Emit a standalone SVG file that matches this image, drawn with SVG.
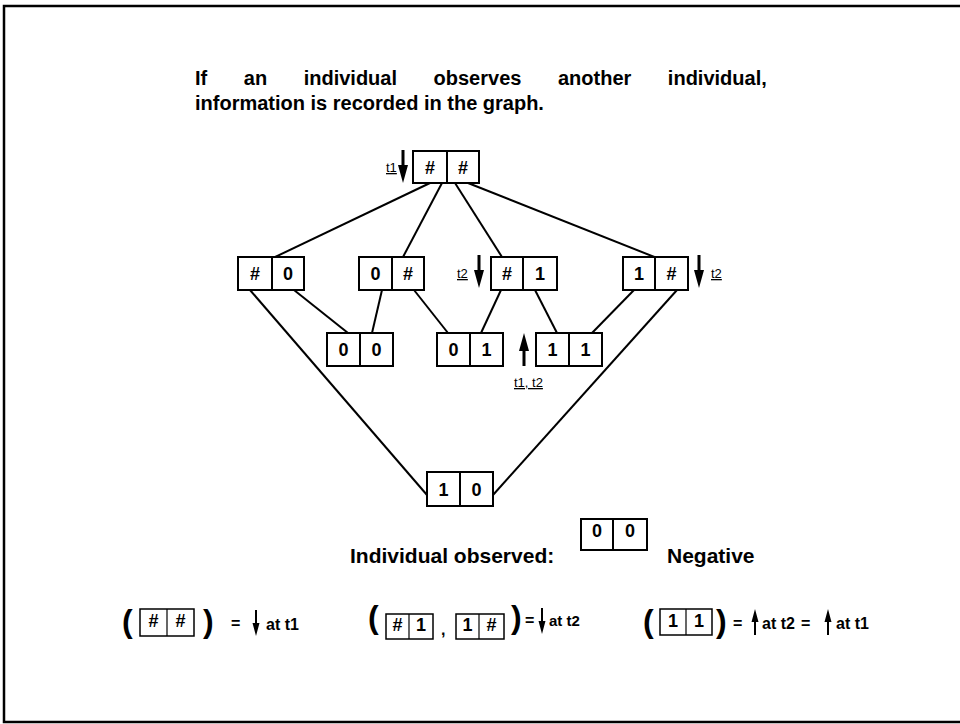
<svg xmlns="http://www.w3.org/2000/svg" xmlns:xlink="http://www.w3.org/1999/xlink" width="960" height="724" viewBox="0 0 960 724">
<style>
.box{fill:#fff;stroke:#000;stroke-width:2}
.fbox{fill:#fff;stroke:#000;stroke-width:1.5}
.div{stroke:#000;stroke-width:2}
.fdiv{stroke:#000;stroke-width:1.2}
.cell{font-family:"Liberation Sans",Arial,Helvetica,sans-serif;font-weight:bold;font-size:18px;text-anchor:middle;fill:#000}
.title{font-family:"Liberation Sans",Arial,Helvetica,sans-serif;font-weight:bold;font-size:20px;fill:#000}
.lbl{font-family:"Liberation Sans",Arial,Helvetica,sans-serif;font-size:13px;text-decoration:underline;fill:#000}
.edge{stroke:#000;stroke-width:2;fill:none}
.b{font-family:"Liberation Sans",Arial,Helvetica,sans-serif;font-weight:bold;fill:#000}
</style>
<defs>
<path id="ad" d="M-1.5,0 H1.5 V15 H5 L0,33 L-5,15 H-1.5 Z" fill="#000"/>
<path id="ads" d="M-1,0 H1 V13 H3.5 L0,26 L-3.5,13 H-1 Z" fill="#000"/>
</defs>
<rect width="960" height="724" fill="#fff"/>
<path d="M962,6 H4 V722 H962" fill="none" stroke="#000" stroke-width="2.5"/>

<g id="title">
<text class="title" x="195" y="85" word-spacing="31">If an individual observes another individual,</text>
<text class="title" x="195" y="110">information is recorded in the graph.</text>
</g>

<g id="connectors">
<line class="edge" x1="430" y1="183" x2="273" y2="258"/>
<line class="edge" x1="442" y1="183" x2="403" y2="257"/>
<line class="edge" x1="455" y1="183" x2="502" y2="257"/>
<line class="edge" x1="468" y1="183" x2="657" y2="258"/>
<line class="edge" x1="294" y1="290" x2="348" y2="333"/>
<line class="edge" x1="250" y1="290" x2="427" y2="495"/>
<line class="edge" x1="382" y1="290" x2="372" y2="333"/>
<line class="edge" x1="414" y1="290" x2="448" y2="333"/>
<line class="edge" x1="501" y1="290" x2="481" y2="333"/>
<line class="edge" x1="535" y1="290" x2="557" y2="333"/>
<line class="edge" x1="634" y1="290" x2="592" y2="333"/>
<line class="edge" x1="677" y1="290" x2="493" y2="495"/>
</g>

<g id="node-hh">
<rect class="box" x="413" y="151" width="66" height="32"/>
<line class="div" x1="447" y1="151" x2="447" y2="183"/>
<text class="cell" x="430" y="173.5">#</text>
<text class="cell" x="463" y="173.5">#</text>
</g>
<g id="node-h0">
<rect class="box" x="238" y="257" width="66" height="33"/>
<line class="div" x1="272" y1="257" x2="272" y2="290"/>
<text class="cell" x="255" y="280">#</text>
<text class="cell" x="288" y="280">0</text>
</g>
<g id="node-0h">
<rect class="box" x="359" y="257" width="65" height="33"/>
<line class="div" x1="392" y1="257" x2="392" y2="290"/>
<text class="cell" x="375.5" y="280">0</text>
<text class="cell" x="408" y="280">#</text>
</g>
<g id="node-h1">
<rect class="box" x="491" y="257" width="66" height="33"/>
<line class="div" x1="523" y1="257" x2="523" y2="290"/>
<text class="cell" x="507" y="280">#</text>
<text class="cell" x="540" y="280">1</text>
</g>
<g id="node-1h">
<rect class="box" x="623" y="257" width="65" height="33"/>
<line class="div" x1="655" y1="257" x2="655" y2="290"/>
<text class="cell" x="639" y="280">1</text>
<text class="cell" x="671.5" y="280">#</text>
</g>
<g id="node-00">
<rect class="box" x="327" y="333" width="66" height="33"/>
<line class="div" x1="360" y1="333" x2="360" y2="366"/>
<text class="cell" x="343.5" y="356">0</text>
<text class="cell" x="376.5" y="356">0</text>
</g>
<g id="node-01">
<rect class="box" x="437" y="333" width="66" height="33"/>
<line class="div" x1="470" y1="333" x2="470" y2="366"/>
<text class="cell" x="453.5" y="356">0</text>
<text class="cell" x="486.5" y="356">1</text>
</g>
<g id="node-11">
<rect class="box" x="536" y="333" width="66" height="33"/>
<line class="div" x1="569" y1="333" x2="569" y2="366"/>
<text class="cell" x="552.5" y="356">1</text>
<text class="cell" x="585.5" y="356">1</text>
</g>
<g id="node-10">
<rect class="box" x="427" y="472" width="66" height="34"/>
<line class="div" x1="460" y1="472" x2="460" y2="506"/>
<text class="cell" x="443.5" y="495.5">1</text>
<text class="cell" x="476.5" y="495.5">0</text>
</g>

<g id="time-markers">
<use xlink:href="#ad" x="403" y="150"/>
<text class="lbl" x="386" y="172" font-size="12">t1</text>
<use xlink:href="#ad" x="479" y="255"/>
<text class="lbl" x="457" y="278">t2</text>
<use xlink:href="#ad" x="699" y="255"/>
<text class="lbl" x="711" y="278">t2</text>
<use xlink:href="#ad" transform="translate(524,366) scale(1,-1)"/>
<text class="lbl" x="514" y="387" font-size="14">t1, t2</text>
</g>

<g id="legend">
<text class="b" x="350" y="563" font-size="21">Individual observed:</text>
<rect class="box" x="581" y="519" width="66" height="31"/>
<line class="div" x1="613" y1="519" x2="613" y2="550"/>
<text class="cell" x="597" y="537" font-size="15">0</text>
<text class="cell" x="630" y="537" font-size="15">0</text>
<text class="b" x="667" y="563" font-size="21">Negative</text>
</g>

<g id="formula-1">
<text class="b" x="122" y="632" font-size="32">(</text>
<rect class="fbox" x="140" y="609" width="54" height="27"/>
<line class="fdiv" x1="167" y1="609" x2="167" y2="636"/>
<text class="cell" x="153.5" y="627" font-size="12">#</text>
<text class="cell" x="180.5" y="627" font-size="12">#</text>
<text class="b" x="203" y="632" font-size="32">)</text>
<text class="b" x="231" y="629" font-size="16">=</text>
<use xlink:href="#ads" x="256" y="610"/>
<text class="b" x="266" y="630" font-size="16">at t1</text>
</g>

<g id="formula-2">
<text class="b" x="368" y="628" font-size="32">(</text>
<rect class="fbox" x="386" y="614" width="47" height="25"/>
<line class="fdiv" x1="409" y1="614" x2="409" y2="639"/>
<text class="cell" x="397.5" y="631" font-size="11">#</text>
<text class="cell" x="421" y="631" font-size="11">1</text>
<text class="b" x="441" y="635" font-size="16">,</text>
<rect class="fbox" x="456" y="614" width="48" height="25"/>
<line class="fdiv" x1="479" y1="614" x2="479" y2="639"/>
<text class="cell" x="467.5" y="631" font-size="11">1</text>
<text class="cell" x="491.5" y="631" font-size="11">#</text>
<text class="b" x="511" y="628" font-size="32">)</text>
<text class="b" x="525" y="626" font-size="16">=</text>
<use xlink:href="#ads" x="542" y="608"/>
<text class="b" x="549" y="626" font-size="15">at t2</text>
</g>

<g id="formula-3">
<text class="b" x="643" y="632" font-size="32">(</text>
<rect class="fbox" x="660" y="609" width="52" height="26"/>
<line class="fdiv" x1="686" y1="609" x2="686" y2="635"/>
<text class="cell" x="673" y="627" font-size="12">1</text>
<text class="cell" x="699" y="627" font-size="12">1</text>
<text class="b" x="716" y="632" font-size="32">)</text>
<text class="b" x="733" y="629" font-size="16">=</text>
<use xlink:href="#ads" transform="translate(755,635) scale(1,-1)"/>
<text class="b" x="762" y="629" font-size="16">at t2</text>
<text class="b" x="801" y="629" font-size="16">=</text>
<use xlink:href="#ads" transform="translate(828,635) scale(1,-1)"/>
<text class="b" x="836" y="629" font-size="16">at t1</text>
</g>
</svg>
